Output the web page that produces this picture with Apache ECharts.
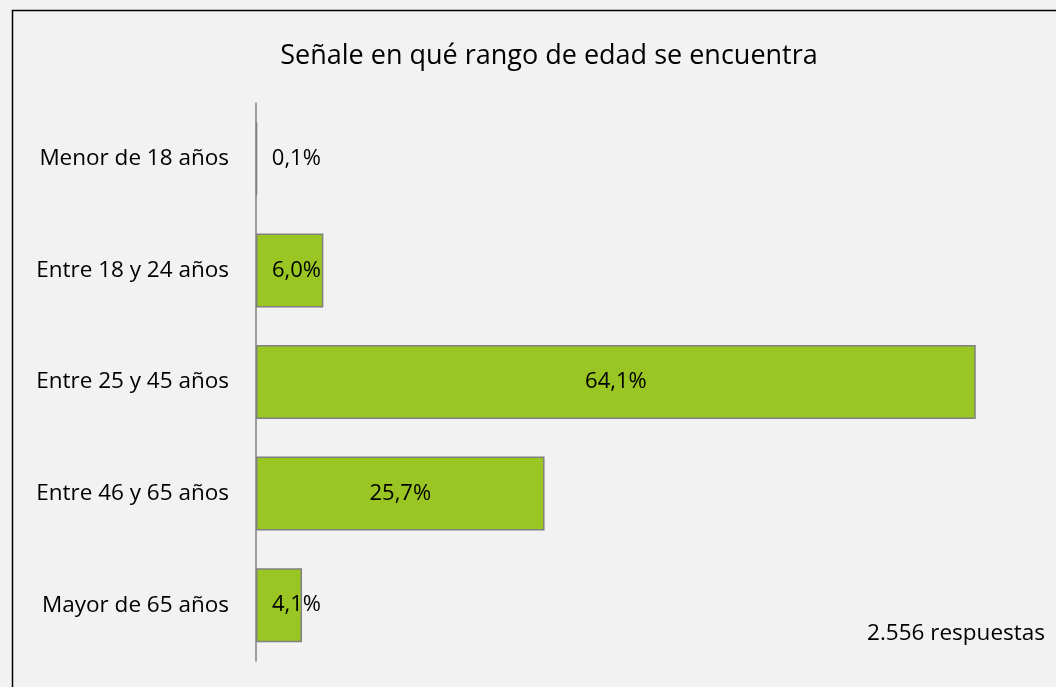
<!DOCTYPE html>
<html><head><meta charset="utf-8">
<script src="https://cdn.jsdelivr.net/npm/echarts@6/dist/echarts.min.js"></script>
<style>html,body{margin:0;padding:0;background:#f2f2f2;}#c{width:1056px;height:687px;}</style>
</head><body><div id="c"></div>
<script>
const categories = ['Menor de 18 años','Entre 18 y 24 años','Entre 25 y 45 años','Entre 46 y 65 años','Mayor de 65 años'];
const values = [0.1, 6.0, 64.1, 25.7, 4.1];
const titleText = 'Señale en qué rango de edad se encuentra';
const noteText = '2.556 respuestas';

const FONT = 'Open Sans';
const chart = echarts.init(document.getElementById('c'), null, {renderer:'canvas'});
chart.setOption({
  backgroundColor:'#f2f2f2',
  animation:false,
  title:{text:titleText,left:544,textAlign:'center',top:38,textStyle:{fontFamily:FONT,fontSize:27,fontWeight:'normal',color:'#000'}},
  grid:{left:256,top:103,width:786,height:558,containLabel:false},
  xAxis:{type:'value',min:0,max:70,show:false},
  yAxis:{type:'category',data:categories,inverse:true,
    axisLine:{lineStyle:{color:'#808080',width:1.5}},axisTick:{show:false},
    axisLabel:{margin:27,fontFamily:FONT,fontSize:22.5,color:'#000'}},
  series:[{type:'bar',barWidth:74,
    data:values.map(v=>({value:v,label:{position: v<10?'insideLeft':'inside', distance: v<10?16:5}})),
    itemStyle:{color:'#9ac623',borderColor:'#808080',borderWidth:1.5},
    label:{show:true,fontFamily:FONT,fontSize:22,color:'#000',
      formatter:p=>p.value.toFixed(1).replace('.',',')+'%'}
  }],
  graphic:[
    {type:'rect',shape:{x:12.5,y:10.5,width:1060,height:700},style:{fill:null,stroke:'#000',lineWidth:1.5},silent:true},
    {type:'text',right:11,top:622,style:{text:noteText,font:'22.5px "Open Sans"',fill:'#000'}}
  ]
});
</script></body></html>
